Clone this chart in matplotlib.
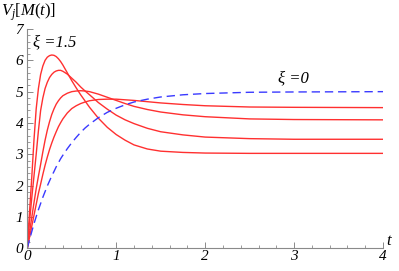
import matplotlib
matplotlib.use("Agg")
import matplotlib.pyplot as plt
from matplotlib.ticker import MultipleLocator

plt.rcParams['mathtext.fontset'] = 'custom'
plt.rcParams['mathtext.rm'] = 'Liberation Serif'
plt.rcParams['mathtext.it'] = 'Liberation Serif:italic'

t = [0, 0.025, 0.05, 0.075, 0.1, 0.125, 0.15, 0.175, 0.2, 0.225, 0.25, 0.275, 0.3, 0.325,
     0.35, 0.375, 0.4, 0.45, 0.5, 0.55, 0.6, 0.65, 0.7, 0.8, 0.9, 1.0, 1.1, 1.2, 1.35,
     1.5, 1.75, 2.0, 2.5, 3.0, 4.0]

v_xi15 = [0, 1.15, 2.25, 3.45, 4.45, 5.1, 5.55, 5.82, 6.0, 6.1, 6.15, 6.17, 6.16, 6.12,
          6.05, 5.96, 5.85, 5.6, 5.35, 5.12, 4.9, 4.7, 4.5, 4.15, 3.86, 3.63, 3.45, 3.3, 3.17,
          3.1, 3.06, 3.04, 3.03, 3.03, 3.03]
v_b = [0, 0.85, 1.6, 2.3, 3.0, 3.75, 4.4, 4.8, 5.1, 5.3, 5.45, 5.55, 5.62, 5.66,
       5.68, 5.68, 5.65, 5.56, 5.43, 5.3, 5.15, 5.02, 4.9, 4.65, 4.44, 4.25, 4.1, 3.98, 3.83,
       3.72, 3.62, 3.55, 3.5, 3.48, 3.48]
v_c = [0, 0.5, 0.98, 1.45, 1.9, 2.3, 2.68, 3.08, 3.45, 3.77, 4.04, 4.27, 4.45, 4.6,
       4.71, 4.8, 4.87, 4.95, 5.0, 5.02, 5.03, 5.02, 5.0, 4.92, 4.82, 4.72, 4.62, 4.53, 4.43,
       4.35, 4.26, 4.2, 4.13, 4.11, 4.1]
v_d = [0, 0.35, 0.7, 1.05, 1.4, 1.75, 2.05, 2.36, 2.65, 2.91, 3.15, 3.36, 3.55, 3.72,
       3.88, 4.01, 4.13, 4.32, 4.46, 4.55, 4.62, 4.67, 4.71, 4.75, 4.76, 4.76, 4.74, 4.72, 4.68,
       4.64, 4.59, 4.55, 4.51, 4.5, 4.49]
v_xi0 = [0, 0.27, 0.53, 0.78, 1.01, 1.23, 1.43, 1.63, 1.81, 1.99, 2.15, 2.31, 2.45, 2.6,
         2.73, 2.86, 2.97, 3.18, 3.37, 3.54, 3.7, 3.84, 3.96, 4.17, 4.34, 4.47, 4.58, 4.67, 4.76,
         4.83, 4.9, 4.94, 4.98, 4.99, 5.0]

red_series = [v_xi15, v_b, v_c, v_d]
xticks = [0, 1, 2, 3, 4]
yticks = [0, 1, 2, 3, 4, 5, 6, 7]

fig = plt.figure(figsize=(3.99, 2.71), dpi=100)
ax = fig.add_axes([0.0684, 0.0838, 0.8916, 0.8092])

for v in red_series:
    ax.plot(t, v, color='#ff3030', lw=1.0, solid_joinstyle='round')
ax.plot(t, v_xi0, color='#3a3aff', lw=1.0, dashes=(6, 3.5))

ax.set_xlim(0, 4)
ax.set_ylim(0, 7)
for s in ['top', 'right']:
    ax.spines[s].set_visible(False)
for s in ['left', 'bottom']:
    ax.spines[s].set_color('#8a8a8a')
    ax.spines[s].set_linewidth(0.8)

serif_it = dict(family='Liberation Serif', style='italic')
ax.set_xticks(xticks)
ax.set_yticks(yticks)
ax.xaxis.set_minor_locator(MultipleLocator(0.2))
ax.yaxis.set_minor_locator(MultipleLocator(0.2))
ax.tick_params(which='major', direction='in', length=4, width=0.7, color='#8a8a8a', pad=1.5)
ax.tick_params(which='minor', direction='in', length=2, width=0.6, color='#8a8a8a')
ax.set_xticklabels([str(x) for x in xticks], fontsize=11, **serif_it)
ax.set_yticklabels([str(y) for y in yticks], fontsize=11, **serif_it)
ax.tick_params(axis='y', pad=3)

ax.text(0.06, 6.56, 'ξ =1.5', fontsize=12, va='center', ha='left', **serif_it)
ax.text(2.82, 5.44, 'ξ =0', fontsize=12, va='center', ha='left', **serif_it)

fig.text(0.002, 0.955, r'$V_j[M(t)]$', fontsize=12, va='center', ha='left')
fig.text(0.968, 0.11, 't', fontsize=12, va='center', ha='left', **serif_it)

fig.savefig('out.png', dpi=100)
